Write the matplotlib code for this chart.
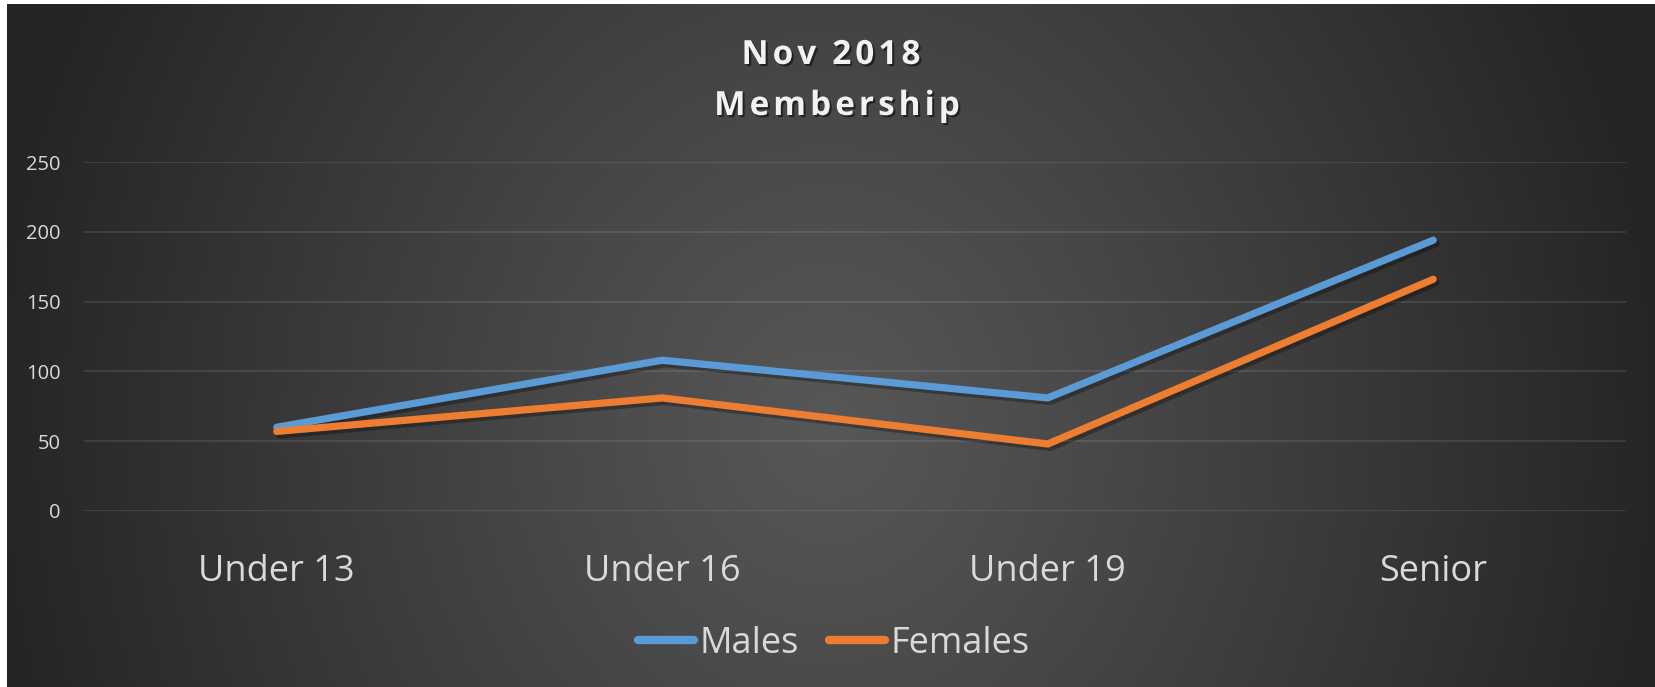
import numpy as np
import matplotlib
matplotlib.use("Agg")
import matplotlib.pyplot as plt
import matplotlib.patheffects as pe

# data
categories = ["Under 13", "Under 16", "Under 19", "Senior"]
males = [60, 108, 81, 194]
females = [57, 81, 48, 166]
yticks = [0, 50, 100, 150, 200, 250]

plt.rcParams['font.family'] = ['Open Sans', 'DejaVu Sans']

W, H = 1655, 687
fig = plt.figure(figsize=(W / 100, H / 100), dpi=100)
fig.patch.set_facecolor("white")

# radial gradient background (white border on left/top like the screenshot)
bg = fig.add_axes([7 / W, 0, 1 - 7 / W, 1 - 4 / H])
bg.set_axis_off()
yy, xx = np.mgrid[0:683, 0:1648]
cx, cy = 820, 420
d = np.sqrt(((xx - cx) / 850.0) ** 2 + ((yy - cy) / 950.0) ** 2)
d = np.clip(d, 0, 1)
c = (0x57 + (0x24 - 0x57) * d ** 1.1) / 255.0
img = np.dstack([c, c, c])
bg.imshow(img, aspect="auto", extent=[0, 1, 0, 1], interpolation="bilinear")
bg.set_xlim(0, 1)
bg.set_ylim(0, 1)

ax = fig.add_axes([84 / W, (H - 511) / H, (1626 - 84) / W, (511 - 162) / H])
ax.patch.set_alpha(0)
x = np.arange(len(categories))

shadow = [pe.SimpleLineShadow(offset=(2, -2.5), alpha=0.3, shadow_color="black"), pe.Normal()]
ax.plot(x, males, color="#5B9BD5", lw=5.2, solid_capstyle="round", solid_joinstyle="miter",
        label="Males", path_effects=shadow, zorder=3)
ax.plot(x, females, color="#ED7D31", lw=5.2, solid_capstyle="round", solid_joinstyle="miter",
        label="Females", path_effects=shadow, zorder=3)

ax.set_xlim(-0.5, len(categories) - 0.5)
ax.set_ylim(0, 250)
ax.set_yticks(yticks)
ax.set_xticks(x)
ax.set_xticklabels(categories)
ax.grid(axis="y", color="white", alpha=0.1, lw=1.3)
ax.set_axisbelow(True)
for s in ax.spines.values():
    s.set_visible(False)
ax.tick_params(axis="y", length=0, pad=17, labelsize=14.5, labelcolor="#d9d9d9")
ax.tick_params(axis="x", length=0, pad=31, labelsize=26, labelcolor="#d9d9d9")

# title, two lines, with letter spacing
renderer = fig.canvas.get_renderer()
tshadow = [pe.withSimplePatchShadow(offset=(1.5, -1.5), alpha=0.5, shadow_rgbFace="black")]


def spaced_text(s, xc, yb, track, size):
    kw = dict(fontsize=size, fontweight="bold")
    widths = []
    for i in range(len(s) + 1):
        t = fig.text(0, 0, s[:i] + "|", **kw)
        w = t.get_window_extent(renderer).width
        t.remove()
        widths.append(w)
    bar = widths[0]
    total = widths[-1] - bar + track * (len(s) - 1)
    x0 = xc - total / 2
    for i, ch in enumerate(s):
        if ch == " ":
            continue
        px = x0 + (widths[i] - bar) + track * i
        fig.text(px / W, 1 - yb / H, ch, ha="left", va="baseline", color="#f2f2f2",
                 path_effects=tshadow, **kw)


spaced_text("Nov 2018", 831, 64, 4.0, 24)
spaced_text("Membership", 837, 115, 4.0, 24)

leg = fig.legend(loc="center", bbox_to_anchor=(834 / W, 1 - 644 / H), ncol=2, frameon=False,
                 fontsize=26, handlelength=1.55, handletextpad=0.15, columnspacing=0.85,
                 labelcolor="#d9d9d9")
for h in leg.get_lines():
    h.set_linewidth(6)
    h.set_solid_capstyle("round")
    h.set_path_effects([])

fig.savefig("out.png", dpi=100)
